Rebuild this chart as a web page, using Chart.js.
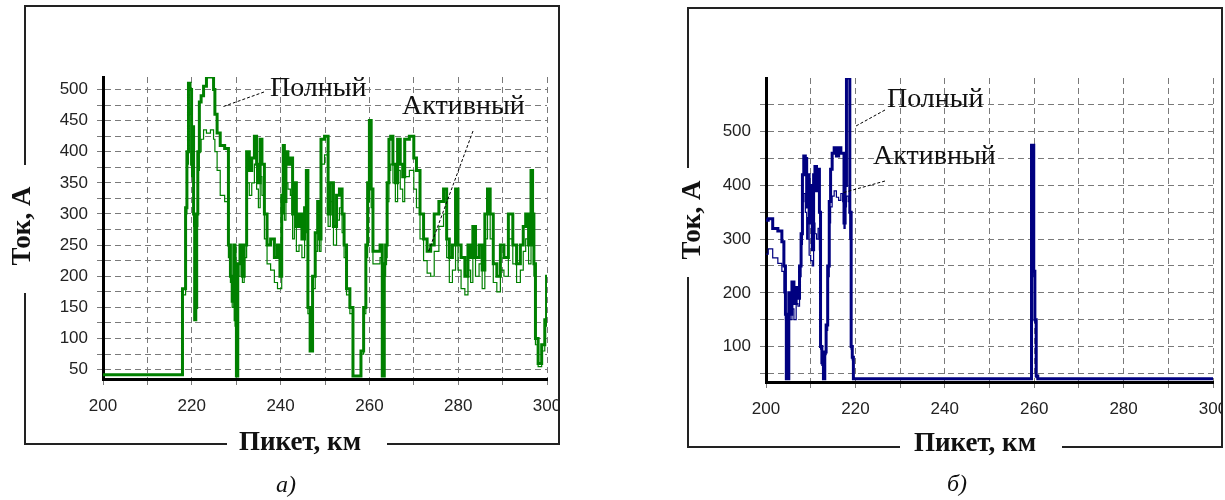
<!DOCTYPE html>
<html>
<head>
<meta charset="utf-8">
<script src="https://cdn.jsdelivr.net/npm/chart.js@4/dist/chart.umd.min.js"></script>
<style>
  body { margin: 0; background: #fff; }
  #wrap { position: relative; width: 1225px; height: 500px; overflow: hidden; }
  canvas { position: absolute; top: 0; }
  #chart-a { left: 0; }
  #chart-b { left: 660px; }
</style>
</head>
<body>
<div id="wrap">
  <canvas id="chart-a" width="560" height="500"></canvas>
  <canvas id="chart-b" width="563" height="500"></canvas>
</div>
<script>
// texts
const yTitle = 'Ток, А';
const xTitle = 'Пикет, км';
const fullLabel = 'Полный';
const activeLabel = 'Активный';
const captionA = 'а)';
const captionB = 'б)';

// ticks
const xGridTicks = [200, 210, 220, 230, 240, 250, 260, 270, 280, 290, 300];
const xLabelTicks = [200, 220, 240, 260, 280, 300];
const aYGridTicks = [50, 75, 100, 125, 150, 175, 200, 225, 250, 275, 300, 325, 350, 375, 400, 425, 450, 475, 500];
const aYLabelTicks = [50, 100, 150, 200, 250, 300, 350, 400, 450, 500];
const bYGridTicks = [50, 100, 150, 200, 250, 300, 350, 400, 450, 500, 550];
const bYLabelTicks = [100, 200, 300, 400, 500];

// chart a) - picket, km
const aKm = [
  200, 217.8, 218.0, 218.5, 218.7, 219.1, 219.4, 219.8, 220.1, 220.3, 220.5, 220.8, 221.0, 221.2, 221.5, 221.9,
  222.3, 223.0, 223.6, 224.8, 225.0, 225.4, 226.0, 226.8, 228.0, 228.5, 228.9, 229.3, 229.6, 229.9, 230.2, 230.5,
  231.2, 231.6, 232.0, 232.7, 233.2, 233.8, 234.4, 234.8, 235.2, 235.6, 236.0, 236.7, 237.2, 238.3, 238.9, 239.7,
  240.0, 240.5, 240.7, 241.0, 241.4, 241.9, 242.5, 242.9, 243.3, 243.8, 244.5, 245.1, 245.7, 245.9, 246.4, 246.9,
  247.5, 248.1, 248.6, 248.9, 249.3, 250.5, 250.9, 251.5, 252.3, 252.9, 253.6, 254.1, 254.5, 255.2, 256.0, 256.6,
  257.8, 258.4, 259.0, 259.4, 259.8, 260.2, 260.6, 261.0, 262.2, 262.6, 263.2, 263.5, 263.8, 264.2, 264.6, 265.0,
  265.6, 266.1, 266.6, 267.3, 267.7, 268.2, 269.8, 270.2, 271.0, 271.8, 272.6, 273.4, 274.2, 275.0, 276.3, 277.1,
  277.7, 278.3, 279.1, 279.7, 280.2, 281.1, 281.9, 282.5, 283.1, 283.5, 284.3, 285.1, 285.7, 286.3, 286.9, 287.5,
  288.3, 289.1, 289.9, 290.7, 291.9, 292.7, 293.6, 294.4, 294.9, 295.5, 296.2, 296.6, 296.9, 297.2, 297.6, 298.4,
  299.2, 299.8, 300
];
const aFull = [
  42, 42, 180, 180, 310, 400, 510, 500, 380, 440, 300, 130, 150, 300, 400, 480,
  490, 505, 520, 520, 500, 460, 430, 410, 405, 250, 200, 160, 250, 130, 40, 220,
  250, 200, 250, 400, 370, 390, 425, 380, 350, 420, 380, 300, 250, 260, 230, 250,
  200, 330, 410, 320, 400, 380, 390, 300, 350, 280, 300, 260, 310, 370, 150, 80,
  200, 270, 320, 260, 420, 425, 300, 350, 280, 330, 340, 300, 250, 180, 150, 40,
  40, 80, 150, 250, 350, 450, 340, 240, 240, 250, 40, 220, 250, 350, 420, 425,
  380, 350, 420, 380, 360, 420, 425, 390, 370, 300, 260, 240, 250, 300, 320, 340,
  260, 230, 250, 340, 250, 230, 200, 250, 230, 280, 230, 250, 210, 300, 340, 300,
  220, 200, 250, 230, 300, 250, 220, 250, 280, 300, 250, 370, 300, 220, 100, 60,
  90, 130, 200
];
const aActive = [
  42, 42, 170, 170, 300, 380, 470, 460, 360, 400, 280, 130, 150, 280, 370, 400,
  420, 435, 430, 435, 420, 400, 370, 330, 320, 230, 190, 150, 230, 120, 40, 200,
  230, 190, 230, 350, 330, 350, 380, 340, 310, 360, 330, 260, 220, 210, 190, 180,
  180, 300, 370, 290, 350, 340, 330, 260, 300, 240, 250, 230, 270, 320, 140, 80,
  180, 240, 290, 240, 380, 395, 280, 320, 250, 290, 310, 270, 230, 170, 140, 40,
  40, 75, 140, 230, 320, 400, 310, 220, 220, 230, 40, 200, 230, 320, 370, 380,
  350, 320, 370, 340, 320, 360, 370, 340, 310, 260, 225, 205, 200, 240, 280, 300,
  230, 190, 210, 300, 210, 180, 170, 210, 190, 240, 200, 220, 180, 260, 300, 260,
  190, 175, 210, 200, 260, 220, 190, 210, 240, 260, 220, 320, 260, 200, 90, 55,
  80, 120, 180
];

// chart б) - picket, km
const bKm = [
  200, 201, 202, 203.3, 203.8, 204.2, 204.5, 204.6, 205.0, 205.2, 205.6, 206.0, 206.5, 207.0, 207.3, 207.7,
  208.0, 208.3, 208.6, 209.0, 209.2, 209.5, 209.8, 210.2, 210.5, 210.8, 211.1, 211.5, 211.8, 212.1, 212.3, 212.7,
  213.0, 213.3, 213.6, 214.0, 214.3, 214.6, 215.0, 215.5, 216.0, 216.5, 217.0, 217.3, 217.6, 217.8, 218.2, 218.6,
  218.9, 219.2, 219.4, 219.7, 259.3, 259.5, 259.8, 260.0, 260.3, 260.6, 261, 300
];
const bFull = [
  335, 338, 320, 315, 295, 250, 160, 40, 40, 200, 160, 220, 180, 210, 190, 250,
  310, 420, 455, 450, 360, 420, 330, 400, 280, 420, 435, 390, 430, 350, 100, 70,
  40, 90, 140, 250, 370, 430, 460, 470, 455, 470, 460, 460, 330, 400, 600, 600,
  350, 100, 80, 40, 40, 475, 475, 240, 150, 45, 40, 40
];
const bActive = [
  272, 282, 265, 255, 240, 200, 150, 40, 40, 180, 150, 170, 150, 180, 175, 230,
  290, 370, 385, 350, 300, 340, 270, 260, 250, 330, 310, 300, 320, 280, 95, 65,
  40, 85, 130, 230, 330, 360, 380, 390, 378, 372, 385, 370, 320, 360, 380, 370,
  300, 95, 75, 40, 40, 470, 470, 230, 145, 42, 40, 40
];

const tickFont = { family: 'Liberation Sans', size: 17 };
const serif = 'Liberation Serif';

// frame round the chart, axis titles sitting in gaps of it, notes with leader lines
const framePlugin = {
  id: 'frame',
  beforeDraw(chart, args, o) {
    const ctx = chart.ctx;
    const [l, t, r, b] = o.box;
    ctx.save();
    ctx.fillStyle = '#fff';
    ctx.fillRect(0, 0, chart.width, chart.height);
    ctx.strokeStyle = '#222';
    ctx.lineWidth = 2;
    ctx.beginPath();
    ctx.moveTo(l, o.yGap[0]); ctx.lineTo(l, t); ctx.lineTo(r, t); ctx.lineTo(r, b); ctx.lineTo(o.xGap[1], b);
    ctx.moveTo(o.xGap[0], b); ctx.lineTo(l, b); ctx.lineTo(l, o.yGap[1]);
    ctx.stroke();
    ctx.restore();
  },
  afterDraw(chart, args, o) {
    const ctx = chart.ctx;
    ctx.save();
    ctx.fillStyle = '#111';
    ctx.textBaseline = 'middle';
    ctx.textAlign = 'center';
    ctx.font = 'bold 27px ' + serif;
    ctx.fillText(xTitle, o.xTitleAt[0], o.xTitleAt[1]);
    ctx.save();
    ctx.translate(o.yTitleAt[0], o.yTitleAt[1]);
    ctx.rotate(-Math.PI / 2);
    ctx.fillText(yTitle, 0, 0);
    ctx.restore();

    ctx.font = 'italic 24px ' + serif;
    ctx.fillText(o.caption, o.captionAt[0], o.captionAt[1]);

    ctx.font = '28px ' + serif;
    ctx.textAlign = 'left';
    ctx.strokeStyle = '#000';
    ctx.lineWidth = 1;
    o.notes.forEach(n => {
      ctx.fillText(n.text, n.at[0], n.at[1]);
      ctx.setLineDash([3, 2]);
      ctx.beginPath();
      ctx.moveTo(n.line[0], n.line[1]);
      ctx.lineTo(n.line[2], n.line[3]);
      ctx.stroke();
      ctx.setLineDash([]);
    });
    ctx.restore();
  }
};

function makeChart(id, cfg) {
  const pts = (km, vals) => km.map((x, i) => ({ x: x, y: vals[i] }));
  new Chart(document.getElementById(id), {
    type: 'line',
    data: {
      datasets: [
        { label: activeLabel, data: pts(cfg.km, cfg.active), borderColor: cfg.color, borderWidth: 1.2 },
        { label: fullLabel, data: pts(cfg.km, cfg.full), borderColor: cfg.color, borderWidth: 3 },
      ]
    },
    options: {
      responsive: false,
      animation: false,
      devicePixelRatio: 1,
      parsing: true,
      elements: { point: { radius: 0 }, line: { stepped: 'middle', tension: 0, fill: false } },
      layout: { padding: cfg.padding },
      plugins: { legend: { display: false }, tooltip: { enabled: false }, frame: cfg.frame },
      scales: {
        x: {
          type: 'linear', min: 200, max: 300,
          afterBuildTicks: axis => { axis.ticks = xGridTicks.map(v => ({ value: v })); },
          afterFit: s => { s.height = 40; s.paddingLeft = 0; s.paddingRight = 0; },
          ticks: {
            autoSkip: false, maxRotation: 0, minRotation: 0, padding: 11, color: '#222', font: tickFont,
            callback: v => xLabelTicks.includes(v) ? String(v) : ''
          },
          grid: { color: '#7a7a7a', lineWidth: 1, tickLength: 6, tickColor: '#7a7a7a' },
          border: { color: '#000', width: 3, dash: [6, 4] }
        },
        y: {
          min: cfg.yMin, max: cfg.yMax,
          afterBuildTicks: axis => { axis.ticks = cfg.yGrid.map(v => ({ value: v })); },
          afterFit: s => { s.width = cfg.yWidth; s.paddingTop = 0; s.paddingBottom = 0; },
          ticks: {
            autoSkip: false, padding: 9, color: '#222', font: tickFont,
            callback: v => cfg.yLabels.includes(v) ? String(v) : ''
          },
          grid: { color: '#7a7a7a', lineWidth: 1, tickLength: 6, tickColor: '#7a7a7a' },
          border: { color: '#000', width: 3, dash: [6, 4] }
        }
      }
    },
    plugins: [framePlugin]
  });
}

makeChart('chart-a', {
  km: aKm, full: aFull, active: aActive, color: '#008000',
  yMin: 35, yMax: 520, yGrid: aYGridTicks, yLabels: aYLabelTicks, yWidth: 103,
  padding: { left: 0, top: 77, right: 13, bottom: 81 },
  frame: {
    box: [25, 6, 559, 444], yGap: [165, 293], xGap: [227, 387],
    yTitleAt: [23, 226], xTitleAt: [300, 443], caption: captionA, captionAt: [286, 486],
    notes: [
      { text: fullLabel, at: [270, 89], line: [264, 92, 222, 107] },
      { text: activeLabel, at: [402, 107], line: [473, 131, 428, 253] }
    ]
  }
});

makeChart('chart-b', {
  km: bKm, full: bFull, active: bActive, color: '#000080',
  yMin: 34, yMax: 600, yGrid: bYGridTicks, yLabels: bYLabelTicks, yWidth: 106,
  padding: { left: 0, top: 78, right: 10, bottom: 78 },
  frame: {
    box: [28, 8, 562, 447], yGap: [168, 277], xGap: [240, 402],
    yTitleAt: [33, 220], xTitleAt: [315, 444], caption: captionB, captionAt: [297, 485],
    notes: [
      { text: fullLabel, at: [227, 100], line: [225, 110, 196, 126] },
      { text: activeLabel, at: [213, 157], line: [225, 181, 182, 193] }
    ]
  }
});
</script>
</body>
</html>
